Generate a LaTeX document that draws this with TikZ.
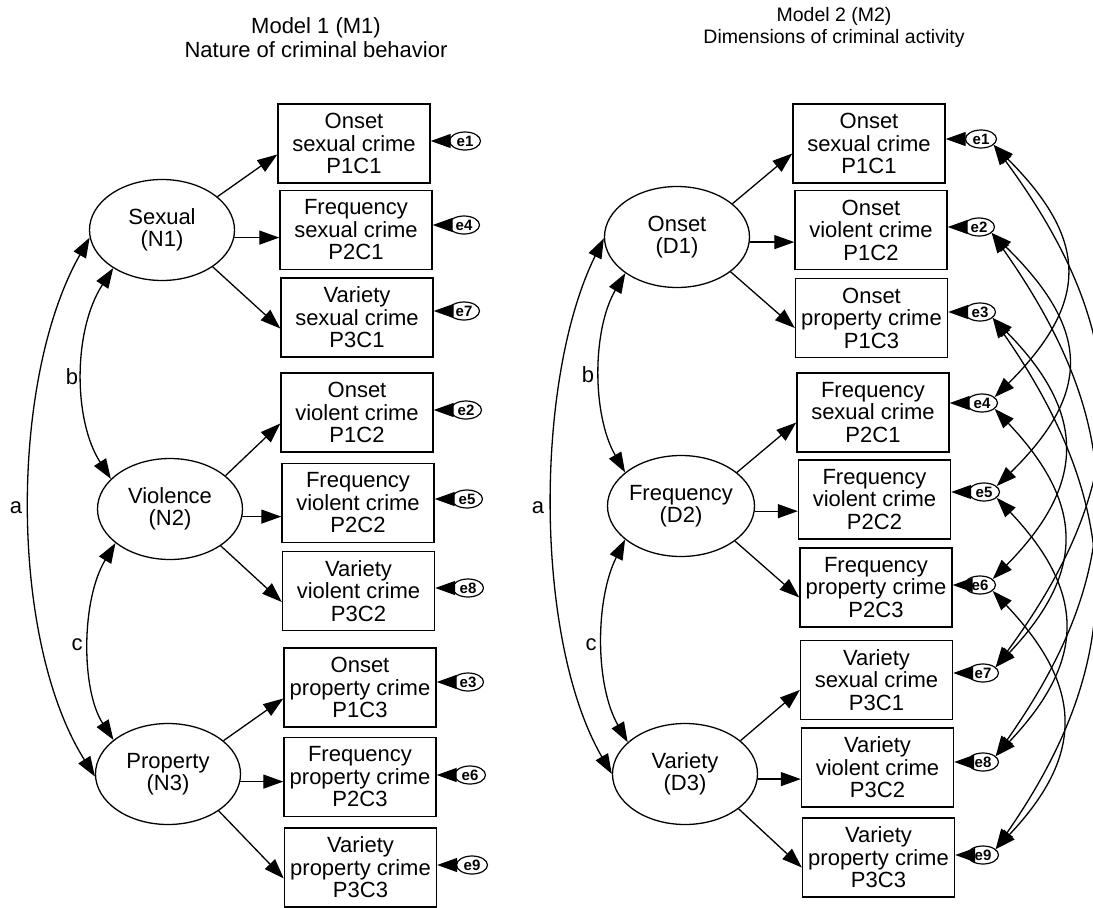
\documentclass[tikz,border=0pt]{standalone}
\usepackage{fontspec}
\setmainfont{Liberation Sans}
\usetikzlibrary{shapes.geometric,arrows.meta}

\tikzset{
  txt/.style={font=\fontsize{22}{22.5}\selectfont},
  obsbox/.style={txt, draw, line width=1.4pt, minimum width=152pt, minimum height=79pt,
                 inner sep=0pt, align=center},
  latent/.style={txt, ellipse, draw, line width=1.3pt, minimum width=145pt, minimum height=101pt,
                 inner sep=0pt, align=center},
  err/.style={ellipse, draw, line width=1.2pt, minimum width=31pt, minimum height=18pt,
              inner sep=0pt, font=\fontsize{15}{15}\selectfont\bfseries},
  load/.style={line width=1.3pt, -{Triangle[length=20pt,width=14pt]}},
  cov/.style={line width=1.3pt, {Triangle[length=20pt,width=14pt]}-{Triangle[length=20pt,width=14pt]}},
  lbl/.style={font=\fontsize{22}{22}\selectfont},
}

\begin{document}
\begin{tikzpicture}[x=1pt,y=-1pt]
\useasboundingbox (0,0) rectangle (1093,908);
\clip (0,0) rectangle (1093,908);

% ---------------- Model 1 ----------------
\node[font=\fontsize{22}{24}\selectfont, align=center] (t1) at (316,38)
  {Model 1 (M1)\\Nature of criminal behavior};

\node[latent] (n1) at (162,230) {Sexual\\(N1)};
\node[latent] (n2) at (170,509) {Violence\\(N2)};
\node[latent] (n3) at (168,774) {Property\\(N3)};

\node[obsbox] (a1) at (354,143.5) {Onset\\sexual crime\\P1C1};
\node[obsbox] (a4) at (356,230) {Frequency\\sexual crime\\P2C1};
\node[obsbox] (a7) at (357,317.5) {Variety\\sexual crime\\P3C1};
\node[obsbox] (a2) at (357,412.5) {Onset\\violent crime\\P1C2};
\node[obsbox] (a5) at (358,503) {Frequency\\violent crime\\P2C2};
\node[obsbox] (a8) at (358.5,591) {Variety\\violent crime\\P3C2};
\node[obsbox] (a3) at (360,687.5) {Onset\\property crime\\P1C3};
\node[obsbox] (a6) at (360,777) {Frequency\\property crime\\P2C3};
\node[obsbox] (a9) at (360.5,867.5) {Variety\\property crime\\P3C3};

\node[err] (ea1) at (465,141) {e1};
\node[err] (ea4) at (464,225) {e4};
\node[err] (ea7) at (464,311) {e7};
\node[err] (ea2) at (466,410) {e2};
\node[err] (ea5) at (467,499) {e5};
\node[err] (ea8) at (468,588) {e8};
\node[err] (ea3) at (468,682) {e3};
\node[err] (ea6) at (470,775) {e6};
\node[err] (ea9) at (472,865) {e9};

% loadings
\foreach \lat/\up/\mid/\dn in {n1/a1/a4/a7, n2/a2/a5/a8, n3/a3/a6/a9}{
  \draw[load] (\lat.31) -- ([yshift=-11pt]\up.west);
  \draw[load] (\lat.-6) -- (\lat.-6 -| \mid.west);
  \draw[load] (\lat.-36) -- ([yshift=-11pt]\dn.west);
}
% residuals
\foreach \i in {1,...,9}{
  \draw[load] (ea\i.west) -- (ea\i.west -| a\i.east);
}

% factor covariances
\draw[cov] (n1.218) .. controls (73,330) and (73,420) .. (n2.153);
\draw[cov] (n2.212) .. controls (81,600) and (81,690) .. (n3.148);
\draw[cov] (n1.186) .. controls (9,380) and (9,640) .. (n3.182);
\node[lbl] (lb1) at (72,377) {b};
\node[lbl] (lc1) at (77,645) {c};
\node[lbl] (la1) at (16,508) {a};

% ---------------- Model 2 ----------------
\node[font=\fontsize{19.5}{22}\selectfont, align=center] (t2) at (834,27)
  {Model 2 (M2)\\Dimensions of criminal activity};

\node[latent] (d1) at (677,237) {Onset\\(D1)};
\node[latent] (d2) at (681,506) {Frequency\\(D2)};
\node[latent] (d3) at (685,774) {Variety\\(D3)};

\node[obsbox] (b1) at (869,143.5) {Onset\\sexual crime\\P1C1};
\node[obsbox] (b2) at (871,230) {Onset\\violent crime\\P1C2};
\node[obsbox] (b3) at (871.5,318) {Onset\\property crime\\P1C3};
\node[obsbox] (b4) at (873,412.5) {Frequency\\sexual crime\\P2C1};
\node[obsbox] (b5) at (874.5,499.5) {Frequency\\violent crime\\P2C2};
\node[obsbox] (b6) at (876,587.5) {Frequency\\property crime\\P2C3};
\node[obsbox] (b7) at (876.5,680) {Variety\\sexual crime\\P3C1};
\node[obsbox] (b8) at (877.5,767.5) {Variety\\violent crime\\P3C2};
\node[obsbox] (b9) at (878.5,857.5) {Variety\\property crime\\P3C3};

\node[err] (eb1) at (981,139) {e1};
\node[err] (eb2) at (979,227) {e2};
\node[err] (eb3) at (980,312) {e3};
\node[err] (eb4) at (982,403) {e4};
\node[err] (eb5) at (984,492) {e5};
\node[err] (eb6) at (980,585) {e6};
\node[err] (eb7) at (983,673) {e7};
\node[err] (eb8) at (983,762) {e8};
\node[err] (eb9) at (983,855) {e9};

\foreach \lat/\up/\mid/\dn in {d1/b1/b2/b3, d2/b4/b5/b6, d3/b7/b8/b9}{
  \draw[load] (\lat.31) -- ([yshift=-10pt]\up.west);
  \draw[load] (\lat.-4) -- (\lat.-4 -| \mid.west);
  \draw[load] (\lat.-33) -- ([yshift=-10pt]\dn.west);
}
\foreach \i in {1,...,9}{
  \draw[load] (eb\i.west) -- (eb\i.west -| b\i.east);
}

\draw[cov] (d1.215) .. controls (592,330) and (592,415) .. (d2.149);
\draw[cov] (d2.211) .. controls (595,600) and (595,685) .. (d3.151);
\draw[cov] (d1.181) .. controls (534,380) and (534,640) .. (d3.180);
\node[lbl] (lb2) at (588,375) {b};
\node[lbl] (lc2) at (591,645) {c};
\node[lbl] (la2) at (538,508) {a};

% correlated residuals of the same crime type
\draw[cov] (eb1.-25) .. controls +(95,95) and +(95,-95) .. (eb4.25);
\draw[cov] (eb4.-25) .. controls +(90,95) and +(90,-95) .. (eb7.25);
\draw[cov] (eb1.-25) .. controls +(140,190) and +(140,-190) .. (eb7.25);
\draw[cov] (eb2.-25) .. controls +(97,95) and +(97,-95) .. (eb5.25);
\draw[cov] (eb5.-25) .. controls +(90,95) and +(90,-95) .. (eb8.25);
\draw[cov] (eb2.-25) .. controls +(134,190) and +(134,-190) .. (eb8.25);
\draw[cov] (eb3.-25) .. controls +(94,95) and +(94,-95) .. (eb6.25);
\draw[cov] (eb6.-25) .. controls +(90,95) and +(90,-95) .. (eb9.25);
\draw[cov] (eb3.-25) .. controls +(132,190) and +(132,-190) .. (eb9.25);
\end{tikzpicture}
\end{document}
